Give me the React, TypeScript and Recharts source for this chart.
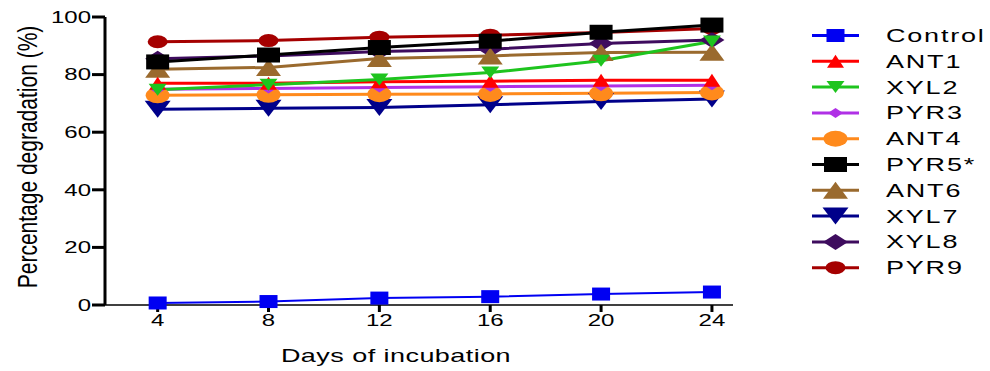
import React from "react";
import { LineChart, Line, XAxis, YAxis } from "recharts";

const days = [4, 8, 12, 16, 20, 24];
const xTicks = [4, 8, 12, 16, 20, 24];
const yTicks = [0, 20, 40, 60, 80, 100];

const control = [0.7, 1.2, 2.4, 2.9, 3.8, 4.5];
const ant1 = [77, 77, 77.5, 77.7, 78, 78];
const xyl2 = [74.7, 76.5, 78.3, 80.7, 84.8, 91.5];
const pyr3 = [74.9, 75.2, 75.5, 75.8, 76, 76.3];
const ant4 = [72.8, 73, 73.2, 73.3, 73.5, 73.8];
const pyr5 = [84.4, 86.8, 89.4, 91.6, 94.7, 97.2];
const ant6 = [81.9, 82.5, 85.6, 86.5, 87.7, 87.8];
const xyl7 = [68, 68.3, 68.6, 69.5, 70.7, 71.5];
const xyl8 = [85.5, 86.5, 88, 88.8, 90.8, 92];
const pyr9 = [91.4, 91.8, 93, 93.7, 94.6, 96];

type Shape = "square" | "up" | "down" | "diamond" | "circle";

interface Series {
  key: string;
  name: string;
  values: number[];
  color: string;
  shape: Shape;
  w: number;
  h: number;
  lw: number;
}

// legend order
const series: Series[] = [
  { key: "control", name: "Control", values: control, color: "#0000f2", shape: "square", w: 18, h: 13, lw: 2 },
  { key: "ant1", name: "ANT1", values: ant1, color: "#ff0000", shape: "up", w: 17, h: 13, lw: 3 },
  { key: "xyl2", name: "XYL2", values: xyl2, color: "#1ec41e", shape: "down", w: 18, h: 12, lw: 3 },
  { key: "pyr3", name: "PYR3", values: pyr3, color: "#b030e6", shape: "diamond", w: 15, h: 10, lw: 3 },
  { key: "ant4", name: "ANT4", values: ant4, color: "#ff8a1c", shape: "circle", w: 24, h: 16, lw: 3 },
  { key: "pyr5", name: "PYR5*", values: pyr5, color: "#000000", shape: "square", w: 23, h: 15, lw: 3 },
  { key: "ant6", name: "ANT6", values: ant6, color: "#9a6a2e", shape: "up", w: 25, h: 17, lw: 3 },
  { key: "xyl7", name: "XYL7", values: xyl7, color: "#00008a", shape: "down", w: 26, h: 17, lw: 3 },
  { key: "xyl8", name: "XYL8", values: xyl8, color: "#3e0c5e", shape: "diamond", w: 25, h: 16, lw: 3 },
  { key: "pyr9", name: "PYR9", values: pyr9, color: "#a50000", shape: "circle", w: 20, h: 13, lw: 3 },
];

// drawing order, black last so it sits on top like the original
const drawOrder = ["control", "pyr9", "xyl8", "ant6", "xyl7", "ant4", "pyr3", "ant1", "xyl2", "pyr5"];

const data = days.map((d, i) => {
  const row: Record<string, number> = { day: d };
  series.forEach((s) => {
    row[s.key] = s.values[i];
  });
  return row;
});

const FONT = "'Liberation Sans', Arial, sans-serif";

function Marker({ shape, cx, cy, w, h, fill }: { shape: Shape; cx: number; cy: number; w: number; h: number; fill: string }) {
  if (cx == null || cy == null) return null;
  const hw = w / 2;
  const hh = h / 2;
  if (shape === "square") return <rect x={cx - hw} y={cy - hh} width={w} height={h} fill={fill} />;
  if (shape === "circle") return <ellipse cx={cx} cy={cy} rx={hw} ry={hh} fill={fill} />;
  if (shape === "up")
    return <polygon points={`${cx},${cy - hh} ${cx + hw},${cy + hh} ${cx - hw},${cy + hh}`} fill={fill} />;
  if (shape === "down")
    return <polygon points={`${cx - hw},${cy - hh} ${cx + hw},${cy - hh} ${cx},${cy + hh}`} fill={fill} />;
  return <polygon points={`${cx},${cy - hh} ${cx + hw},${cy} ${cx},${cy + hh} ${cx - hw},${cy}`} fill={fill} />;
}

const XTick = (props: any) => {
  const { x, y, payload } = props;
  return (
    <g transform={`translate(${x},${y}) scale(1.5,1)`}>
      <text x={0} y={0} dy="0.71em" textAnchor="middle" fontSize={16} fontFamily={FONT} fill="#000">
        {payload.value}
      </text>
    </g>
  );
};

const YTick = (props: any) => {
  const { x, y, payload } = props;
  return (
    <g transform={`translate(${x},${y}) scale(1.5,1)`}>
      <text x={0} y={0} dy="0.36em" textAnchor="end" fontSize={16} fontFamily={FONT} fill="#000">
        {payload.value}
      </text>
    </g>
  );
};

const XTitle = () => (
  <g transform="translate(396,362) scale(1.5,1)">
    <text x={0} y={0} textAnchor="middle" fontSize={18} fontFamily={FONT} fill="#000" letterSpacing={0.3}>
      Days of incubation
    </text>
  </g>
);

const YTitle = () => (
  <g transform="translate(27,157) rotate(-90) scale(1,1.35)">
    <text x={0} y={0} dy="0.35em" textAnchor="middle" fontSize={21} fontFamily={FONT} fill="#000">
      Percentage degradation (%)
    </text>
  </g>
);

function LegendBox() {
  const top = 35.5;
  const step = 25.8;
  return (
    <svg width={990} height={371} style={{ position: "absolute", left: 0, top: 0, pointerEvents: "none" }}>
      {series.map((s, i) => {
        const y = top + i * step;
        return (
          <g key={s.key}>
            <line x1={812} x2={859} y1={y} y2={y} stroke={s.color} strokeWidth={3} />
            <Marker shape={s.shape} cx={835.5} cy={y} w={s.w} h={s.h} fill={s.color} />
            <g transform={`translate(886,${y + 6.5}) scale(1.5,1)`}>
              <text x={0} y={0} fontSize={18} fontFamily={FONT} fill="#000" letterSpacing={1.2}>
                {s.name}
              </text>
            </g>
          </g>
        );
      })}
    </svg>
  );
}

export default function App() {
  const ordered = drawOrder.map((k) => series.find((s) => s.key === k)!);
  return (
    <div style={{ position: "absolute", left: 0, top: 0, width: 990, height: 371, background: "#fff" }}>
      <LineChart width={990} height={371} data={data} margin={{ top: 17, right: 257, bottom: 0, left: 0 }}>
        <XAxis
          dataKey="day"
          type="number"
          domain={[2.1, 24.76]}
          ticks={xTicks}
          allowDataOverflow
          height={66}
          axisLine={{ stroke: "#000", strokeWidth: 1.5 }}
          tickLine={{ stroke: "#000", strokeWidth: 3 }}
          tickSize={7}
          tickMargin={3}
          tick={<XTick />}
          label={<XTitle />}
        />
        <YAxis
          type="number"
          domain={[0, 100]}
          ticks={yTicks}
          width={105}
          axisLine={{ stroke: "#000", strokeWidth: 3 }}
          tickLine={{ stroke: "#000", strokeWidth: 3 }}
          tickSize={13}
          tickMargin={1}
          tick={<YTick />}
          label={<YTitle />}
        />
        {ordered.map((s) => (
          <Line
            key={s.key}
            dataKey={s.key}
            name={s.name}
            stroke={s.color}
            strokeWidth={s.lw}
            isAnimationActive={false}
            dot={(p: any) => (
              <Marker key={`${s.key}-${p.index}`} shape={s.shape} cx={p.cx} cy={p.cy} w={s.w} h={s.h} fill={s.color} />
            )}
            activeDot={false}
          />
        ))}
      </LineChart>
      <LegendBox />
    </div>
  );
}
